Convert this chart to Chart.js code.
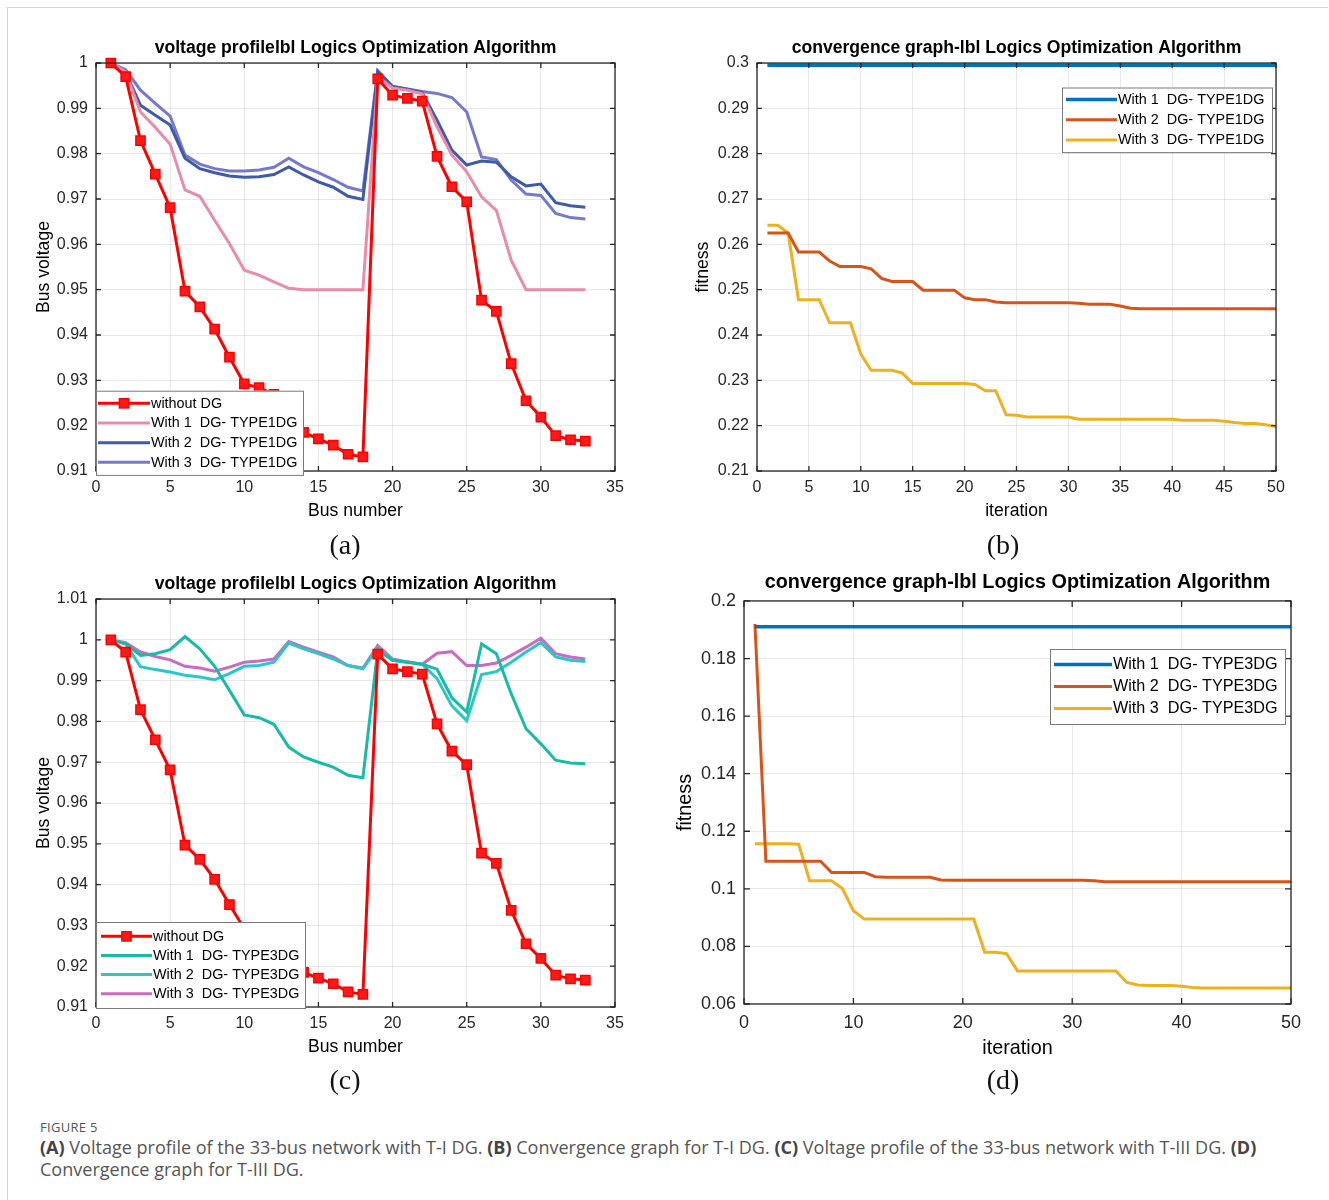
<!DOCTYPE html>
<html><head><meta charset="utf-8">
<script src="https://cdn.jsdelivr.net/npm/chart.js@4.4.1/dist/chart.umd.min.js"></script>
<style>
body{margin:0;background:#fff;}
#page{position:relative;width:1329px;height:1200px;overflow:hidden;background:#fff;}
#frame{position:absolute;left:7px;top:7px;width:1320px;height:1200px;border-top:1px solid #d4d4d4;border-left:1px solid #d4d4d4;}
canvas{position:absolute;}
.sub{position:absolute;font-family:"Liberation Serif","Times New Roman",serif;font-size:28px;color:#111;transform:translate(-50%,-50%);line-height:1;}
#fig{position:absolute;left:40px;top:1119px;font-family:"Open Sans",sans-serif;font-size:13px;line-height:16px;color:#555;letter-spacing:0.3px;}
.cap{position:absolute;left:40px;font-family:"Open Sans",sans-serif;font-size:15.5px;line-height:22px;color:#555;white-space:nowrap;}
.cap b{color:#444;font-weight:700;}
</style></head>
<body><div id="page">
<div id="frame"></div>
<canvas id="ca" width="640" height="520" style="left:0px;top:20px"></canvas>
<canvas id="cb" width="640" height="520" style="left:660px;top:20px"></canvas>
<canvas id="cc" width="640" height="520" style="left:0px;top:556px"></canvas>
<canvas id="cd" width="660" height="520" style="left:660px;top:556px"></canvas>
<div class="sub" style="left:345px;top:545px">(a)</div>
<div class="sub" style="left:1003px;top:545px">(b)</div>
<div class="sub" style="left:345px;top:1080px">(c)</div>
<div class="sub" style="left:1003px;top:1080px">(d)</div>
<div id="fig">FIGURE 5</div>
<div class="cap" id="cap1" style="top:1136px"><b>(A)</b> Voltage profile of the 33-bus network with T-I DG. <b>(B)</b> Convergence graph for T-I DG. <b>(C)</b> Voltage profile of the 33-bus network with T-III DG. <b>(D)</b></div>
<div class="cap" id="cap2" style="top:1158px">Convergence graph for T-III DG.</div>
</div>
<script>
// ---------------- DATA ----------------
const busNumbers = [1,2,3,4,5,6,7,8,9,10,11,12,13,14,15,16,17,18,19,20,21,22,23,24,25,26,27,28,29,30,31,32,33];
const iterations = [1,2,3,4,5,6,7,8,9,10,11,12,13,14,15,16,17,18,19,20,21,22,23,24,25,26,27,28,29,30,31,32,33,34,35,36,37,38,39,40,41,42,43,44,45,46,47,48,49,50];

const vWithoutDG = [1.0000,0.9970,0.9829,0.9755,0.9681,0.9497,0.9462,0.9413,0.9351,0.9292,0.9284,0.9269,0.9208,0.9185,0.9171,0.9157,0.9137,0.9131,0.9965,0.9929,0.9922,0.9916,0.9794,0.9727,0.9694,0.9477,0.9452,0.9337,0.9255,0.9219,0.9178,0.9169,0.9166];

const vType1DG1 = [1.0000,0.9980,0.9892,0.9858,0.9821,0.9720,0.9706,0.9653,0.9602,0.9543,0.9532,0.9517,0.9503,0.9500,0.9500,0.9500,0.9500,0.9500,0.9970,0.9945,0.9940,0.9932,0.9859,0.9797,0.9760,0.9705,0.9675,0.9565,0.9500,0.9500,0.9500,0.9500,0.9500];
const vType1DG2 = [1.0000,0.9979,0.9907,0.9885,0.9863,0.9790,0.9767,0.9758,0.9751,0.9748,0.9749,0.9754,0.9771,0.9753,0.9738,0.9726,0.9706,0.9699,0.9981,0.9948,0.9942,0.9935,0.9874,0.9808,0.9775,0.9784,0.9781,0.9749,0.9729,0.9733,0.9692,0.9685,0.9682];
const vType1DG3 = [1.0000,0.9985,0.9940,0.9911,0.9883,0.9797,0.9777,0.9767,0.9762,0.9762,0.9764,0.9770,0.9790,0.9771,0.9758,0.9743,0.9726,0.9718,0.9983,0.9948,0.9943,0.9937,0.9933,0.9924,0.9892,0.9793,0.9787,0.9742,0.9711,0.9708,0.9668,0.9659,0.9656];

const vType3DG1 = [1.0000,0.9990,0.9962,0.9966,0.9976,1.0008,0.9978,0.9935,0.9876,0.9816,0.9809,0.9793,0.9737,0.9713,0.9700,0.9688,0.9668,0.9662,0.9975,0.9950,0.9945,0.9940,0.9928,0.9858,0.9823,0.9990,0.9966,0.9868,0.9782,0.9745,0.9705,0.9698,0.9696];
const vType3DG2 = [1.0000,0.9990,0.9934,0.9927,0.9921,0.9913,0.9909,0.9902,0.9917,0.9935,0.9937,0.9945,0.9992,0.9978,0.9966,0.9953,0.9937,0.9929,0.9980,0.9950,0.9945,0.9940,0.9905,0.9838,0.9802,0.9915,0.9922,0.9945,0.9970,0.9993,0.9958,0.9950,0.9947];
const vType3DG3 = [1.0000,0.9993,0.9970,0.9959,0.9951,0.9935,0.9931,0.9923,0.9933,0.9945,0.9948,0.9953,0.9996,0.9982,0.9970,0.9958,0.9937,0.9931,0.9986,0.9953,0.9946,0.9940,0.9967,0.9971,0.9937,0.9937,0.9943,0.9962,0.9982,1.0004,0.9966,0.9958,0.9953];

const fitType1DG1 = [0.2995,0.2995,0.2995,0.2995,0.2995,0.2995,0.2995,0.2995,0.2995,0.2995,0.2995,0.2995,0.2995,0.2995,0.2995,0.2995,0.2995,0.2995,0.2995,0.2995,0.2995,0.2995,0.2995,0.2995,0.2995,0.2995,0.2995,0.2995,0.2995,0.2995,0.2995,0.2995,0.2995,0.2995,0.2995,0.2995,0.2995,0.2995,0.2995,0.2995,0.2995,0.2995,0.2995,0.2995,0.2995,0.2995,0.2995,0.2995,0.2995,0.2995];
const fitType1DG2 = [0.2625,0.2625,0.2625,0.2583,0.2583,0.2583,0.2563,0.2551,0.2551,0.2551,0.2546,0.2525,0.2518,0.2518,0.2518,0.2499,0.2499,0.2499,0.2499,0.2482,0.2478,0.2478,0.2473,0.2471,0.2471,0.2471,0.2471,0.2471,0.2471,0.2471,0.2470,0.2468,0.2468,0.2468,0.2464,0.2459,0.2458,0.2458,0.2458,0.2458,0.2458,0.2458,0.2458,0.2458,0.2458,0.2458,0.2458,0.2458,0.2458,0.2458];
const fitType1DG3 = [0.2642,0.2642,0.2625,0.2478,0.2478,0.2478,0.2427,0.2427,0.2427,0.2358,0.2322,0.2322,0.2322,0.2316,0.2293,0.2293,0.2293,0.2293,0.2293,0.2293,0.2291,0.2277,0.2277,0.2224,0.2223,0.2219,0.2219,0.2219,0.2219,0.2219,0.2214,0.2214,0.2214,0.2214,0.2214,0.2214,0.2214,0.2214,0.2214,0.2214,0.2212,0.2212,0.2212,0.2212,0.2210,0.2207,0.2205,0.2205,0.2202,0.2198];

const fitType3DG1 = [0.1910,0.1910,0.1910,0.1910,0.1910,0.1910,0.1910,0.1910,0.1910,0.1910,0.1910,0.1910,0.1910,0.1910,0.1910,0.1910,0.1910,0.1910,0.1910,0.1910,0.1910,0.1910,0.1910,0.1910,0.1910,0.1910,0.1910,0.1910,0.1910,0.1910,0.1910,0.1910,0.1910,0.1910,0.1910,0.1910,0.1910,0.1910,0.1910,0.1910,0.1910,0.1910,0.1910,0.1910,0.1910,0.1910,0.1910,0.1910,0.1910,0.1910];
const fitType3DG2 = [0.1920,0.1096,0.1096,0.1096,0.1096,0.1096,0.1096,0.1057,0.1057,0.1057,0.1057,0.1042,0.1040,0.1040,0.1040,0.1040,0.1040,0.1031,0.1030,0.1030,0.1030,0.1030,0.1030,0.1030,0.1030,0.1030,0.1030,0.1030,0.1030,0.1030,0.1030,0.1028,0.1025,0.1025,0.1025,0.1025,0.1025,0.1025,0.1025,0.1025,0.1025,0.1025,0.1025,0.1025,0.1025,0.1025,0.1025,0.1025,0.1025,0.1025];
const fitType3DG3 = [0.1157,0.1157,0.1157,0.1157,0.1155,0.1028,0.1028,0.1028,0.1001,0.0924,0.0895,0.0895,0.0895,0.0895,0.0895,0.0895,0.0895,0.0895,0.0895,0.0895,0.0895,0.0780,0.0780,0.0775,0.0715,0.0715,0.0715,0.0715,0.0715,0.0715,0.0715,0.0715,0.0715,0.0715,0.0675,0.0666,0.0664,0.0664,0.0664,0.0662,0.0657,0.0656,0.0656,0.0656,0.0656,0.0656,0.0656,0.0656,0.0656,0.0656];

const titleVoltage = 'voltage profilelbl Logics Optimization Algorithm';
const titleConv = 'convergence graph-lbl Logics Optimization Algorithm';
const labelsType1 = ['without DG','With 1  DG- TYPE1DG','With 2  DG- TYPE1DG','With 3  DG- TYPE1DG'];
const labelsType3 = ['without DG','With 1  DG- TYPE3DG','With 2  DG- TYPE3DG','With 3  DG- TYPE3DG'];
const convLabels1 = ['With 1  DG- TYPE1DG','With 2  DG- TYPE1DG','With 3  DG- TYPE1DG'];
const convLabels3 = ['With 1  DG- TYPE3DG','With 2  DG- TYPE3DG','With 3  DG- TYPE3DG'];

// ---------------- HELPERS ----------------
const FONT = '"Liberation Sans", Arial, Helvetica, sans-serif';
const AX = '#262626';
const pts = (xs, ys) => xs.map((x, i) => ({x: x, y: ys[i]}));
const fmt = v => String(+(+v).toFixed(4));

const boxPlugin = {
  id: 'mbox',
  afterDraw(chart, args, o) {
    const {ctx, chartArea: a, scales} = chart;
    const L = o.tick || 5;
    ctx.save();
    ctx.strokeStyle = AX; ctx.lineWidth = 1.3;
    ctx.strokeRect(a.left, a.top, a.right - a.left, a.bottom - a.top);
    ctx.beginPath();
    scales.x.ticks.forEach(t => {
      const px = scales.x.getPixelForValue(t.value);
      ctx.moveTo(px, a.bottom); ctx.lineTo(px, a.bottom - L);
      ctx.moveTo(px, a.top); ctx.lineTo(px, a.top + L);
    });
    scales.y.ticks.forEach(t => {
      const py = scales.y.getPixelForValue(t.value);
      ctx.moveTo(a.left, py); ctx.lineTo(a.left + L, py);
      ctx.moveTo(a.right, py); ctx.lineTo(a.right - L, py);
    });
    ctx.stroke();
    ctx.restore();
  }
};

const legendPlugin = {
  id: 'mlegend',
  afterDraw(chart, args, o) {
    if (!o || o.x === undefined) return;
    const ctx = chart.ctx;
    const ds = chart.data.datasets;
    const h = o.rowH * ds.length + o.padY * 2;
    ctx.save();
    ctx.fillStyle = '#fff';
    ctx.fillRect(o.x, o.y, o.w, h);
    ctx.strokeStyle = '#7a7a7a'; ctx.lineWidth = 1;
    ctx.strokeRect(o.x + 0.5, o.y + 0.5, o.w, h);
    ctx.font = o.size + 'px ' + FONT;
    ctx.textBaseline = 'middle';
    ds.forEach((d, i) => {
      const cy = o.y + o.padY + o.rowH * (i + 0.5);
      ctx.strokeStyle = d.borderColor; ctx.lineWidth = d.borderWidth;
      ctx.beginPath(); ctx.moveTo(o.x + o.s0, cy); ctx.lineTo(o.x + o.s1, cy); ctx.stroke();
      if (d.pointRadius > 0) {
        const s = d.pointRadius * Math.SQRT1_2;
        const cx = o.x + (o.s0 + o.s1) / 2;
        ctx.fillStyle = d.pointBackgroundColor;
        ctx.fillRect(cx - s, cy - s, 2 * s, 2 * s);
        ctx.lineWidth = 1.5; ctx.strokeStyle = d.borderColor;
        ctx.strokeRect(cx - s, cy - s, 2 * s, 2 * s);
      }
      ctx.fillStyle = '#000';
      ctx.fillText(d.label, o.x + o.s1 + 1, cy + 0.5);
    });
    ctx.restore();
  }
};

function lineDs(label, xs, ys, color, width, marker) {
  return {
    label: label, data: pts(xs, ys),
    borderColor: color, borderWidth: width, tension: 0, clip: false,
    pointStyle: 'rect',
    pointRadius: marker ? 6.5 : 0,
    pointBackgroundColor: marker ? '#ff1a1a' : color,
    pointBorderColor: color, pointBorderWidth: 1.5
  };
}

function build(id, s) {
  return new Chart(document.getElementById(id), {
    type: 'line',
    data: { datasets: s.datasets },
    options: {
      responsive: false, animation: false, devicePixelRatio: 1,
      events: [],
      layout: { padding: { left: 0, right: s.padRight, top: 0, bottom: 0 } },
      plugins: {
        legend: { display: false },
        tooltip: { enabled: false },
        title: {
          display: true, text: s.title, fullSize: false, color: '#000',
          font: { family: FONT, size: s.titleSize, weight: 'bold', lineHeight: 1.2 },
          padding: { top: s.titlePadTop, bottom: s.titlePadBottom }
        },
        mbox: { tick: s.tick },
        mlegend: s.legend
      },
      scales: {
        x: {
          type: 'linear', min: s.xMin, max: s.xMax,
          ticks: { stepSize: s.xStep, color: AX, padding: s.xTickPad, maxRotation: 0, autoSkip: false,
                   font: { family: FONT, size: s.tickSize }, callback: v => fmt(v) },
          grid: { color: 'rgba(0,0,0,0.09)', drawTicks: false, lineWidth: 1 },
          border: { display: false },
          title: { display: true, text: s.xTitle, color: '#000', font: { family: FONT, size: s.labelSize, lineHeight: 1.2 },
                   padding: { top: 0, bottom: s.xTitlePad } },
          afterFit: sc => { sc.height = s.xH; }
        },
        y: {
          type: 'linear', min: s.yMin, max: s.yMax,
          ticks: { stepSize: s.yStep, color: AX, padding: s.yTickPad, autoSkip: false,
                   font: { family: FONT, size: s.tickSize }, callback: v => fmt(v) },
          grid: { color: 'rgba(0,0,0,0.09)', drawTicks: false, lineWidth: 1 },
          border: { display: false },
          title: { display: true, text: s.yTitle, color: '#000', font: { family: FONT, size: s.labelSize, lineHeight: 1.2 },
                   padding: { top: s.yTitlePad, bottom: 0 } },
          afterFit: sc => { sc.width = s.yW; }
        }
      }
    },
    plugins: [boxPlugin, legendPlugin]
  });
}

// ---------------- CHARTS ----------------
const common = { titleSize: 17.6, tickSize: 16, labelSize: 17.6, tick: 5,
                 titlePadTop: 17.4, titlePadBottom: 4.5, xTickPad: 7, yTickPad: 8, xTitlePad: 18.4 };

build('ca', Object.assign({}, common, {
  title: titleVoltage, xTitle: 'Bus number', yTitle: 'Bus voltage',
  xMin: 0, xMax: 35, xStep: 5, yMin: 0.91, yMax: 1, yStep: 0.01,
  padRight: 25, yW: 96, xH: 69, yTitlePad: 33.4,
  datasets: [
    lineDs(labelsType1[0], busNumbers, vWithoutDG, '#ff0000', 3, true),
    lineDs(labelsType1[1], busNumbers, vType1DG1, '#e98bab', 3, false),
    lineDs(labelsType1[2], busNumbers, vType1DG2, '#3d5ba8', 3, false),
    lineDs(labelsType1[3], busNumbers, vType1DG3, '#7579cc', 3, false)
  ],
  legend: { x: 96, y: 370.7, w: 207, rowH: 19.65, padY: 2.8, s0: 2, s1: 54, size: 14.4 }
}));

build('cb', Object.assign({}, common, {
  title: titleConv, xTitle: 'iteration', yTitle: 'fitness',
  xMin: 0, xMax: 50, xStep: 5, yMin: 0.21, yMax: 0.3, yStep: 0.01,
  padRight: 24, yW: 97, xH: 69, yTitlePad: 32.4,
  datasets: [
    lineDs(convLabels1[0], iterations, fitType1DG1, '#0072bd', 3.5, false),
    lineDs(convLabels1[1], iterations, fitType1DG2, '#d95319', 3, false),
    lineDs(convLabels1[2], iterations, fitType1DG3, '#edb120', 3, false)
  ],
  legend: { x: 402, y: 67.5, w: 210, rowH: 20.2, padY: 2, s0: 4, s1: 55, size: 14.4 }
}));

build('cc', Object.assign({}, common, {
  title: titleVoltage, xTitle: 'Bus number', yTitle: 'Bus voltage',
  xMin: 0, xMax: 35, xStep: 5, yMin: 0.91, yMax: 1.01, yStep: 0.01,
  padRight: 25, yW: 96, xH: 69, yTitlePad: 33.4,
  datasets: [
    lineDs(labelsType3[0], busNumbers, vWithoutDG, '#ff0000', 3, true),
    lineDs(labelsType3[1], busNumbers, vType3DG1, '#18bba8', 3, false),
    lineDs(labelsType3[2], busNumbers, vType3DG2, '#2ac7c9', 3, false),
    lineDs(labelsType3[3], busNumbers, vType3DG3, '#c96cc1', 3, false)
  ],
  legend: { x: 96, y: 366, w: 209, rowH: 19.1, padY: 4.8, s0: 5, s1: 56, size: 14.4 }
}));

build('cd', Object.assign({}, common, {
  titleSize: 19.8, tickSize: 18, labelSize: 19.8, tick: 6,
  titlePadTop: 15.1, titlePadBottom: 6.1, xTickPad: 8, yTickPad: 8, xTitlePad: 15.1,
  title: titleConv, xTitle: 'iteration', yTitle: 'fitness',
  xMin: 0, xMax: 50, xStep: 10, yMin: 0.06, yMax: 0.2, yStep: 0.02,
  padRight: 29, yW: 84, xH: 72, yTitlePad: 14.1,
  datasets: [
    lineDs(convLabels3[0], iterations, fitType3DG1, '#0072bd', 3.5, false),
    lineDs(convLabels3[1], iterations, fitType3DG2, '#d95319', 3, false),
    lineDs(convLabels3[2], iterations, fitType3DG3, '#edb120', 3, false)
  ],
  legend: { x: 390, y: 93, w: 235, rowH: 22, padY: 4.5, s0: 4, s1: 62, size: 16.2 }
}));

// fit caption first line to the reference width
(function () {
  const c1 = document.getElementById('cap1'), c2 = document.getElementById('cap2');
  const w = c1.getBoundingClientRect().width;
  const fs = 15.5 * 1217 / w;
  c1.style.fontSize = fs + 'px'; c2.style.fontSize = fs + 'px';
})();
</script>
</body></html>
